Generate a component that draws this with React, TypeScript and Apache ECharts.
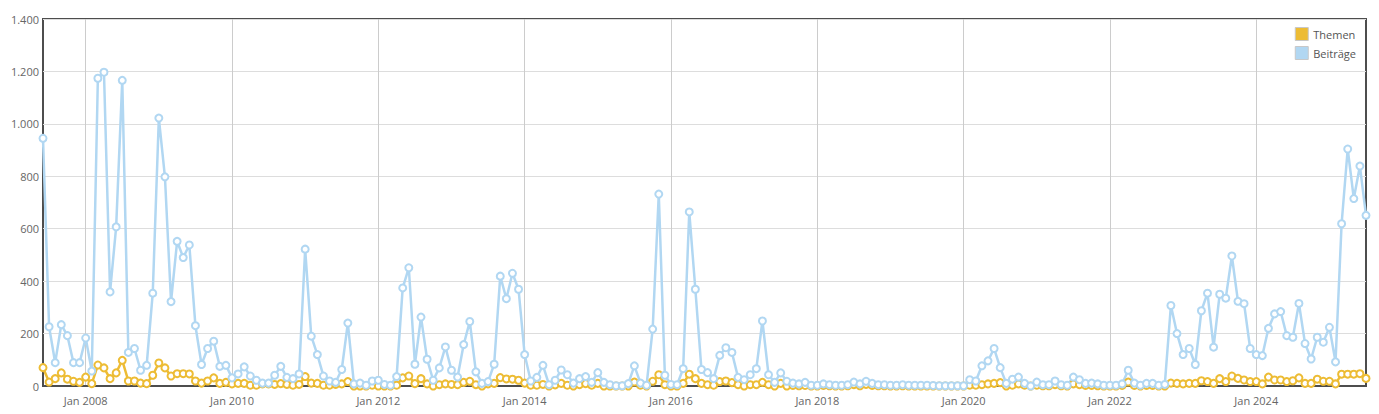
import React, { useEffect, useRef } from "react";
import * as echarts from "echarts";

// Monthly categories: Jun 2007 .. Jul 2025
const monthNames = ["Jan", "Feb", "Mär", "Apr", "Mai", "Jun", "Jul", "Aug", "Sep", "Okt", "Nov", "Dez"];
const categories: string[] = [];
for (let y = 2007, m = 5; y < 2025 || (y === 2025 && m <= 6); m++) {
  if (m > 11) { m = 0; y++; }
  if (y === 2025 && m > 6) break;
  categories.push(`${monthNames[m]} ${y}`);
}

const themen = [
  70, 15, 28, 50, 26, 18, 14, 34, 9, 80, 69, 28, 50, 98, 19, 19, 11, 9, 41, 88,
  69, 38, 47, 47, 46, 19, 11, 19, 31, 10, 14, 8, 10, 10, 3, 3, 8, 8, 6, 9,
  6, 3, 6, 36, 11, 10, 3, 3, 6, 8, 17, 0, 0, 0, 3, 0, 0, 0, 3, 31,
  38, 9, 28, 8, 0, 5, 8, 6, 5, 14, 18, 5, 0, 8, 10, 32, 27, 26, 22, 11,
  3, 3, 6, 0, 4, 10, 3, 0, 5, 9, 3, 10, 0, 0, 0, 0, 0, 15, 3, 0,
  18, 43, 5, 0, 0, 10, 45, 28, 10, 5, 3, 17, 19, 13, 5, 0, 5, 5, 14, 5,
  0, 10, 0, 2, 1, 2, 0, 0, 2, 1, 0, 0, 1, 5, 1, 6, 2, 1, 1, 0,
  0, 1, 0, 0, 0, 0, 0, 0, 0, 0, 0, 0, 3, 3, 5, 8, 10, 13, 0, 3,
  8, 3, 0, 3, 1, 1, 5, 1, 0, 8, 5, 2, 2, 1, 0, 0, 0, 2, 15, 2,
  0, 2, 2, 0, 0, 11, 10, 8, 10, 10, 20, 17, 10, 28, 17, 38, 29, 23, 17, 17,
  8, 34, 23, 23, 17, 20, 31, 10, 10, 26, 18, 18, 8, 45, 45, 45, 47, 29,
];

const beitraege = [
  945, 226, 89, 234, 192, 89, 89, 183, 57, 1174, 1197, 359, 607, 1166, 128, 143, 60, 79, 354, 1022,
  798, 322, 552, 490, 538, 230, 82, 143, 171, 75, 79, 31, 46, 73, 38, 22, 11, 11, 41, 75,
  33, 28, 46, 522, 190, 120, 38, 19, 14, 63, 240, 8, 11, 3, 19, 22, 6, 3, 36, 374,
  451, 83, 263, 102, 22, 69, 149, 60, 34, 158, 246, 54, 10, 17, 83, 419, 333, 430, 369, 120,
  19, 33, 79, 5, 22, 61, 43, 11, 28, 36, 14, 51, 14, 5, 1, 1, 9, 77, 11, 3,
  217, 732, 41, 6, 5, 66, 664, 369, 63, 51, 28, 117, 146, 128, 33, 24, 43, 66, 248, 43,
  14, 50, 18, 11, 8, 14, 3, 3, 8, 5, 3, 3, 5, 15, 8, 18, 10, 5, 5, 3,
  3, 5, 3, 3, 3, 3, 2, 1, 1, 1, 1, 1, 24, 19, 77, 96, 143, 70, 10, 26,
  34, 10, 0, 15, 5, 5, 19, 5, 3, 34, 24, 10, 11, 8, 3, 3, 3, 8, 60, 11,
  3, 10, 10, 3, 6, 307, 200, 120, 143, 82, 287, 354, 148, 350, 335, 496, 323, 314, 143, 120,
  116, 220, 275, 284, 192, 186, 315, 162, 103, 186, 167, 224, 92, 619, 904, 715, 839, 651,
];

const yTicks = [0, 200, 400, 600, 800, 1000, 1200, 1400];

const YELLOW = "#EDBC34";
const BLUE = "#B1D7F2";

function fmtDe(v: number): string {
  if (v >= 1000) return Math.floor(v / 1000) + "." + String(v % 1000).padStart(3, "0");
  return String(v);
}

const isJanEven = (i: number) => (i - 7) % 24 === 0;

export default function App() {
  const ref = useRef<HTMLDivElement>(null);
  useEffect(() => {
    if (!ref.current) return;
    const chart = echarts.init(ref.current, undefined, { renderer: "svg" });
    const font = "'Open Sans', sans-serif";
    const mkSeries = (name: string, data: number[], color: string) => ({
      name,
      type: "line",
      data,
      symbol: "circle",
      symbolSize: 7,
      showSymbol: true,
      showAllSymbol: true,
      lineStyle: { color, width: 2.5 },
      itemStyle: { color: "#ffffff", borderColor: color, borderWidth: 2 },
      emphasis: { disabled: true },
    });
    chart.setOption({
      animation: false,
      textStyle: { fontFamily: font },
      grid: {
        left: 43,
        right: 13,
        top: 19,
        bottom: 28,
        show: true,
        borderColor: "#4d4d4d",
        borderWidth: 2,
        backgroundColor: "#ffffff",
      },
      legend: {
        orient: "vertical",
        right: 18,
        top: 22,
        itemWidth: 13,
        itemHeight: 13,
        itemGap: 5,
        icon: "rect",
        textStyle: { fontSize: 11, color: "#555", fontFamily: font },
        data: [
          { name: "Themen", itemStyle: { color: YELLOW, borderColor: "#c8c8c8", borderWidth: 1 } },
          { name: "Beiträge", itemStyle: { color: BLUE, borderColor: "#c8c8c8", borderWidth: 1 } },
        ],
      },
      xAxis: {
        type: "category",
        data: categories,
        boundaryGap: false,
        axisLine: { show: true, lineStyle: { color: "#4d4d4d", width: 2 } },
        axisTick: { show: false },
        axisLabel: {
          interval: (i: number) => isJanEven(i),
          color: "#666",
          fontSize: 11,
          fontFamily: font,
          margin: 9,
        },
        splitLine: {
          show: true,
          interval: (i: number) => isJanEven(i),
          lineStyle: { color: "#cccccc", width: 1 },
        },
      },
      yAxis: {
        type: "value",
        min: yTicks[0],
        max: yTicks[yTicks.length - 1],
        interval: 200,
        axisLine: { show: false },
        axisTick: { show: false },
        axisLabel: {
          formatter: (v: number) => fmtDe(v),
          color: "#666",
          fontSize: 11,
          fontFamily: font,
          margin: 4,
        },
        splitLine: { lineStyle: { color: "#dddddd", width: 1 } },
      },
      series: [mkSeries("Themen", themen, YELLOW), mkSeries("Beiträge", beitraege, BLUE)],
    });
    return () => chart.dispose();
  }, []);
  return (
    <div
      ref={ref}
      style={{ position: "fixed", left: 0, top: 0, width: 1379, height: 414, background: "#fff" }}
    />
  );
}
